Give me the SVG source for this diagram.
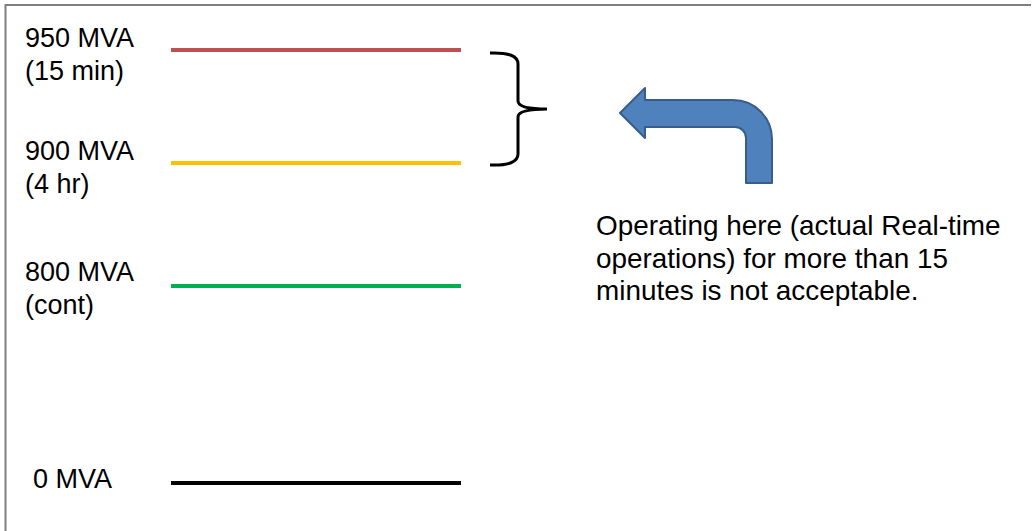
<svg xmlns="http://www.w3.org/2000/svg" width="1032" height="531" viewBox="0 0 1032 531">
<style>
text{font-family:"Liberation Sans",Arial,sans-serif;font-size:27px;fill:#000}
#note text{font-size:27.9px}
.lvl{stroke-width:4;fill:none}
</style>
<rect x="0" y="0" width="1032" height="531" fill="#fff"/>
<path d="M5.5 531 V5 H1031" fill="none" stroke="#7f7f7f" stroke-width="2"/>
<g id="level-950">
<text x="25" y="47">950 MVA</text>
<text x="25" y="80">(15 min)</text>
<line class="lvl" x1="171" y1="50" x2="461" y2="50" stroke="#C0504D"/>
</g>
<g id="level-900">
<text x="25" y="160">900 MVA</text>
<text x="25" y="193">(4 hr)</text>
<line class="lvl" x1="171" y1="163" x2="461" y2="163" stroke="#FFC000"/>
</g>
<g id="level-800">
<text x="25" y="281">800 MVA</text>
<text x="25" y="314">(cont)</text>
<line class="lvl" x1="171" y1="286" x2="461" y2="286" stroke="#00B050"/>
</g>
<g id="level-0">
<text x="33" y="488">0 MVA</text>
<line class="lvl" x1="171" y1="483" x2="461" y2="483" stroke="#000"/>
</g>
<g id="brace">
<path d="M490 53 Q518 52 518 64 V101 Q518 109 547 109 M547 109 Q518 109 518 117 V154 Q518 166 490 165" fill="none" stroke="#000" stroke-width="3"/>
</g>
<g id="arrow">
<path d="M620 113 L645 88 V100 H733 A39 39 0 0 1 772 139 V183 H746 V138 A11 11 0 0 0 735 127 H645 V138 Z" fill="#4F81BD" stroke="#385D8A" stroke-width="2" stroke-linejoin="round"/>
</g>
<g id="note">
<text x="596" y="235">Operating here (actual Real-time</text>
<text x="596" y="268">operations) for more than 15</text>
<text x="596" y="300">minutes is not acceptable.</text>
</g>
</svg>
